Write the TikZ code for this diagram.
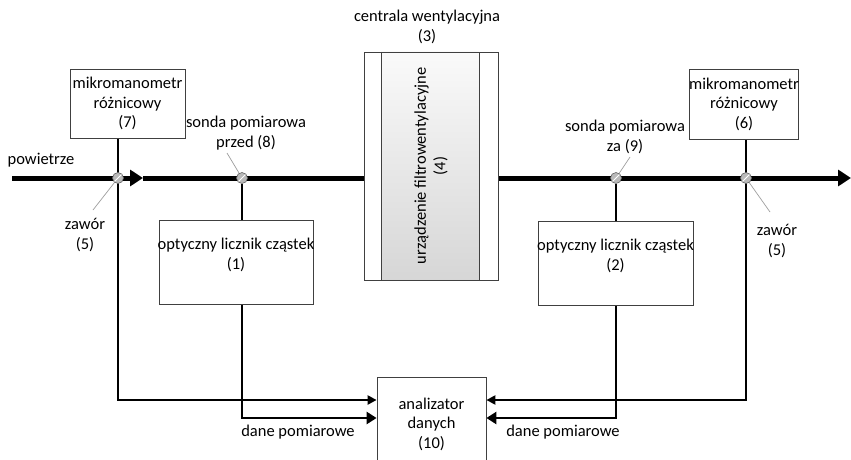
\documentclass[tikz,border=0pt]{standalone}
\usepackage{fontspec}
\setmainfont{Carlito}
\usetikzlibrary{arrows.meta,backgrounds}
\begin{document}
\begin{tikzpicture}[x=1pt,y=-1pt,
  every node/.style={font=\fontsize{16.5}{19.5}\selectfont, align=center, inner sep=0pt},
  box/.style={draw=black!75, line width=0.8pt},
  air/.style={line width=5pt},
  conn/.style={line width=2.5pt},
  valve/.style={circle, minimum size=11pt, fill=gray!55, draw=black!60, line width=0.6pt,
    path picture={\draw[white,line width=0.9pt] (path picture bounding box.south west) -- (path picture bounding box.north east);}},
  lead/.style={draw=gray!75, line width=0.7pt},
  smallarr/.style={-{Triangle[length=9pt,width=9pt]}},
  bigarr/.style={-{Triangle[length=10pt,width=12pt]}},
  airarr/.style={-{Triangle[length=13pt,width=16pt]}}
]
\useasboundingbox (0,0) rectangle (851,460);

% boxes
\node[box, minimum width=115pt, minimum height=69pt] (m7) at (127.5,103.5) {mikromanometr\\różnicowy\\(7)};
\node[box, minimum width=106pt, minimum height=70pt] (m6) at (744,104) {mikromanometr\\różnicowy\\(6)};
\node[box, minimum width=154pt, minimum height=84pt] (c1) at (236,262) {};
\node (c1t) at (236,255) {optyczny licznik cząstek\\(1)};
\node[box, minimum width=155pt, minimum height=84pt] (c2) at (615.5,263) {};
\node (c2t) at (615.5,256) {optyczny licznik cząstek\\(2)};
\node[box, minimum width=134pt, minimum height=228pt] (cent) at (431,166) {};
\node[box, minimum width=98pt, minimum height=228pt, top color=black!2, bottom color=black!16] (filt) at (430,166) {};
\node[rotate=90] (filtt) at (431,166) {urządzenie filtrowentylacyjne\\(4)};
\node (centt) at (427,27) {centrala wentylacyjna\\(3)};
\node[box, minimum width=109pt, minimum height=94pt] (anl) at (431.5,424) {analizator\\danych\\(10)};

% valves and probes
\node[valve] (v1) at (118,178) {};
\node[valve] (s8) at (242,178) {};
\node[valve] (s9) at (616,178) {};
\node[valve] (v2) at (746,178) {};

% labels
\node (pow) at (41,160) {powietrze};
\node (z1) at (85,235) {zawór\\(5)};
\node (z2) at (777,241) {zawór\\(5)};
\node (sp8) at (246,133) {sonda pomiarowa\\przed (8)};
\node (sp9) at (625,137) {sonda pomiarowa\\za (9)};
\node (d1) at (298,432) {dane pomiarowe};
\node (d2) at (563,432) {dane pomiarowe};

\coordinate (a0) at (12,178);
\coordinate (amid) at (143,178);
\coordinate (aend) at (851,178);
\coordinate (yA) at (0,400);
\coordinate (yB) at (0,418);
\coordinate (l1) at (93,210);
\coordinate (l8) at (227,153);
\coordinate (l9) at (630,157);
\coordinate (l2) at (770,212);

\begin{pgfonlayer}{background}
\fill[white] (0,0) rectangle (851,460);
\draw[air, airarr] (a0) -- (amid);
\draw[air] (amid) -- (amid -| cent.west);
\draw[air, airarr] (a0 -| cent.east) -- (aend);

\draw[conn, smallarr] (m7.south -| v1) -- (v1 |- yA) -- (anl.west |- yA);
\draw[conn] (s8) -- (s8 |- c1.north);
\draw[conn, bigarr] (s8 |- c1.south) -- (s8 |- yB) -- (anl.west |- yB);
\draw[conn] (s9) -- (s9 |- c2.north);
\draw[conn, bigarr] (s9 |- c2.south) -- (s9 |- yB) -- (anl.east |- yB);
\draw[conn, smallarr] (m6.south -| v2) -- (v2 |- yA) -- (anl.east |- yA);

\draw[lead] (v1.center) -- (l1);
\draw[lead] (s8.center) -- (l8);
\draw[lead] (s9.center) -- (l9);
\draw[lead] (v2.center) -- (l2);
\end{pgfonlayer}
\end{tikzpicture}
\end{document}
